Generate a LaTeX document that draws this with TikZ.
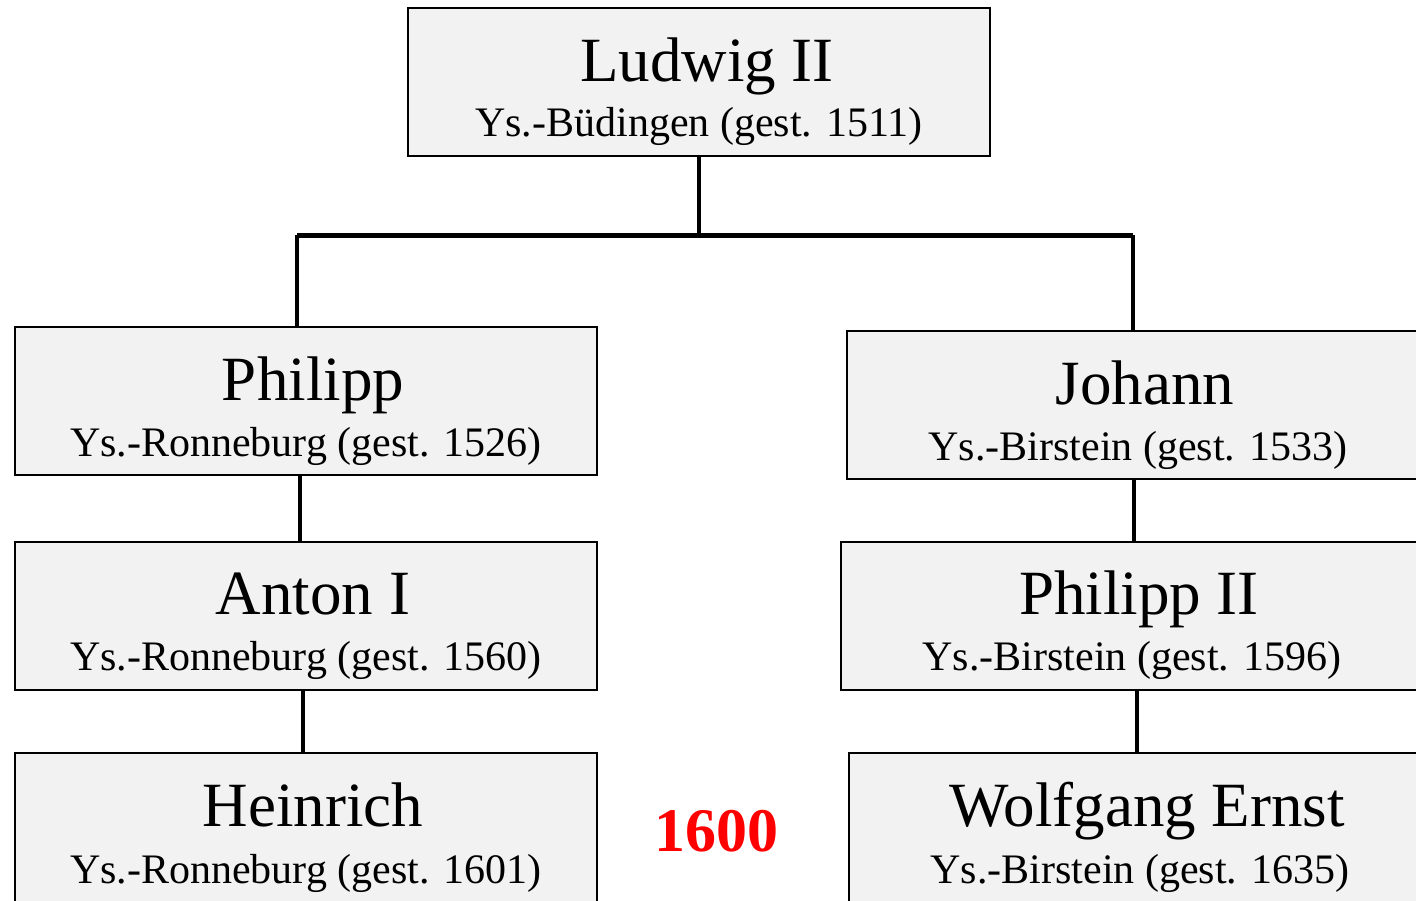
\documentclass[tikz,border=0pt]{standalone}
\usepackage{fontspec}
\setmainfont{Liberation Serif}
\definecolor{boxfill}{HTML}{F2F2F2}
\definecolor{redtxt}{HTML}{FF0000}
\tikzset{
  famboxstyle/.style={draw=black, line width=2pt, fill=boxfill, minimum width=582pt, minimum height=148pt, inner sep=0pt},
  titletext/.style={anchor=base, inner sep=0pt, font=\fontsize{63}{63}\selectfont},
  subtext/.style={anchor=base, inner sep=0pt, font=\fontsize{42}{42}\selectfont},
  conn/.style={draw=black, line width=4pt},
  barline/.style={draw=black, line width=5pt},
}
\begin{document}
\begin{tikzpicture}[x=1pt,y=-1pt]
\useasboundingbox (0,0) rectangle (1416,900);
\begin{scope}
\clip (0,0) rectangle (1416,900);
% boxes
\node[famboxstyle] (ludwig) at (699,82) {};
\node[famboxstyle] (philipp) at (306,401) {};
\node[famboxstyle] (johann) at (1138,405) {};
\node[famboxstyle] (anton) at (306,615.5) {};
\node[famboxstyle] (philipp2) at (1132,615.5) {};
\node[famboxstyle, minimum height=156pt] (heinrich) at (306,831) {};
\node[famboxstyle, minimum height=156pt] (wolfgang) at (1140,831) {};
% texts
\node[titletext] (t1) at (707,81) {Ludwig II};
\node[subtext] (s1) at (699,136) {Ys.-B\"udingen (gest. 1511)};
\node[titletext] (t2) at (313,400) {Philipp};
\node[subtext] (s2) at (306,456) {Ys.-Ronneburg (gest. 1526)};
\node[titletext] (t3) at (1145,404) {Johann};
\node[subtext] (s3) at (1138,460) {Ys.-Birstein (gest. 1533)};
\node[titletext] (t4) at (313,614) {Anton I};
\node[subtext] (s4) at (306,670) {Ys.-Ronneburg (gest. 1560)};
\node[titletext] (t5) at (1139,614) {Philipp II};
\node[subtext] (s5) at (1132,670) {Ys.-Birstein (gest. 1596)};
\node[titletext] (t6) at (313,826) {Heinrich};
\node[subtext] (s6) at (306,883) {Ys.-Ronneburg (gest. 1601)};
\node[titletext] (t7) at (1147,826) {Wolfgang Ernst};
\node[subtext] (s7) at (1140,883) {Ys.-Birstein (gest. 1635)};
\node[anchor=base, inner sep=0pt, text=redtxt, font=\fontsize{62}{62}\selectfont\bfseries] (year) at (716,851) {1600};
% connectors
\coordinate (barL) at (297,235);
\coordinate (barR) at (1133,235);
\draw[conn] (ludwig.south) -- (ludwig.south |- barL);
\draw[barline] (barL) -- (barR);
\draw[conn] (barL) -- (barL |- philipp.north);
\draw[conn] (barR) -- (barR |- johann.north);
\draw[conn] ([xshift=-6pt]philipp.south) -- ([xshift=-6pt]philipp.south |- anton.north);
\draw[conn] ([xshift=-3pt]anton.south) -- ([xshift=-3pt]anton.south |- heinrich.north);
\draw[conn] ([xshift=-4pt]johann.south) -- ([xshift=-4pt]johann.south |- philipp2.north);
\draw[conn] ([xshift=5pt]philipp2.south) -- ([xshift=5pt]philipp2.south |- wolfgang.north);
\end{scope}
\end{tikzpicture}
\end{document}
